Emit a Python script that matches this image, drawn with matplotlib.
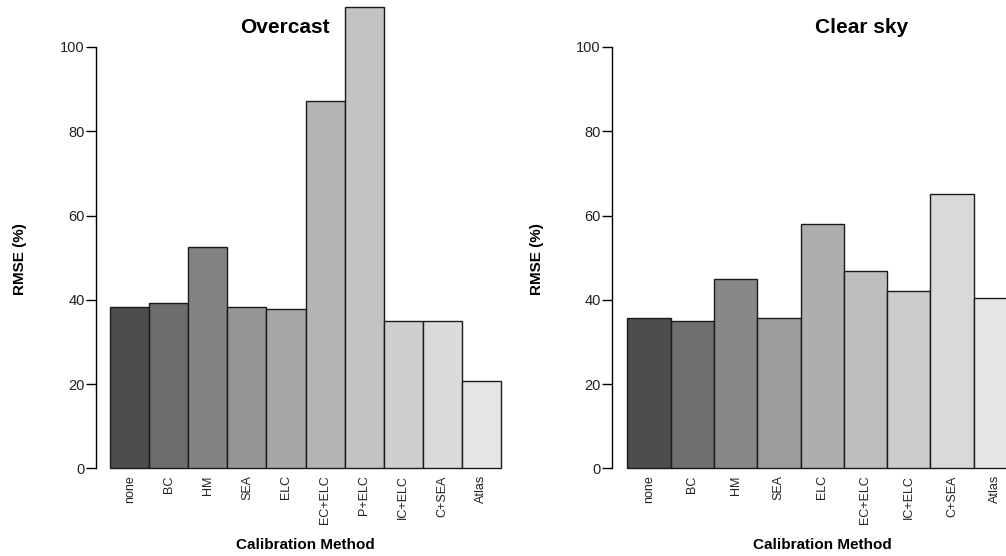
import matplotlib
matplotlib.use("Agg")
import matplotlib.pyplot as plt
import numpy as np

plt.rcParams['font.family'] = ['Liberation Sans', 'DejaVu Sans']

# RMSE (%) per calibration method
overcast_methods = ['none', 'BC', 'HM', 'SEA', 'ELC', 'EC+ELC', 'P+ELC', 'IC+ELC', 'C+SEA', 'Atlas']
overcast_rmse = [38.4, 39.3, 52.5, 38.4, 37.7, 87.2, 109.5, 35.0, 35.0, 20.7]

clear_methods = ['none', 'BC', 'HM', 'SEA', 'ELC', 'EC+ELC', 'IC+ELC', 'C+SEA', 'Atlas']
clear_rmse = [35.6, 35.0, 44.9, 35.6, 58.1, 46.8, 42.2, 65.0, 40.5]

y_ticks = [0, 20, 40, 60, 80, 100]


def gray_colors(n, start=0.3, end=0.9, gamma=2.2):
    # same ramp as R's gray.colors()
    lv = np.linspace(start ** gamma, end ** gamma, n) ** (1 / gamma)
    return [(v, v, v) for v in lv]


W, H = 1006, 556
fig = plt.figure(figsize=(W / 100, H / 100), dpi=100)

px_per_unit_y = 4.213
y0_px = 468.3
ytop = 111


def panel(left_px, axis_gap, bar_px, methods, values, title, title_x):
    xmin = -axis_gap / bar_px
    xmax = xmin + 420 / bar_px
    ax = fig.add_axes([left_px / W, (H - y0_px) / H,
                       (xmax - xmin) * bar_px / W, ytop * px_per_unit_y / H])
    x = np.arange(len(values))
    ax.bar(x, values, width=1.0, align='edge', color=gray_colors(len(values)),
           edgecolor='#1a1a1a', linewidth=1.0, clip_on=False)
    ax.set_xlim(xmin, xmax)
    ax.set_ylim(0, ytop)
    for s in ['top', 'right', 'bottom']:
        ax.spines[s].set_visible(False)
    ax.spines['left'].set_bounds(0, 100)
    ax.spines['left'].set_linewidth(1.0)
    ax.set_yticks(y_ticks)
    ax.tick_params(axis='y', direction='out', length=7, width=1.0,
                   labelsize=10.5, pad=1, labelcolor='#222222')
    ax.set_xticks(x + 0.5)
    ax.set_xticklabels(methods, rotation=90, fontsize=9, color='#222222')
    ax.tick_params(axis='x', length=0, pad=5)
    fig.text(title_x / W, 1 - 27.5 / H, title, ha='center', va='center',
             fontsize=15, fontweight='bold')
    return ax


panel(95.7, 14.6, 39.04, overcast_methods, overcast_rmse, 'Overcast', 285)
panel(611.7, 15.6, 43.3, clear_methods, clear_rmse, 'Clear sky', 862)

fig.text(20 / W, 1 - 259 / H, 'RMSE (%)', rotation=90, ha='center', va='center',
         fontsize=11, fontweight='bold')
fig.text(537 / W, 1 - 259 / H, 'RMSE (%)', rotation=90, ha='center', va='center',
         fontsize=11, fontweight='bold')
fig.text(305 / W, 1 - 545 / H, 'Calibration Method', ha='center', va='center',
         fontsize=11, fontweight='bold')
fig.text(822 / W, 1 - 545 / H, 'Calibration Method', ha='center', va='center',
         fontsize=11, fontweight='bold')

fig.savefig('out.png', dpi=100)
